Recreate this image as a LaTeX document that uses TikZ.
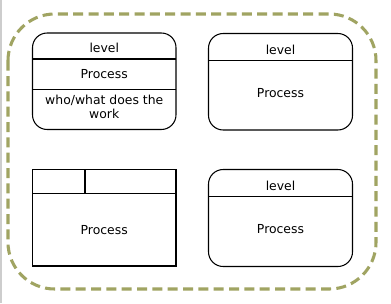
\documentclass[tikz,border=0pt]{standalone}
\usepackage{fontspec}
\setmainfont{DejaVu Sans}
\definecolor{olive1}{RGB}{160,164,98}
\definecolor{frame1}{RGB}{205,205,205}
\begin{document}
\begin{tikzpicture}[x=0.75pt,y=-0.75pt,
  box/.style={draw=black,line width=0.8pt},
  txt/.style={font=\fontsize{9.3}{11}\selectfont,inner sep=0pt,align=center},
  sep/.style={draw=black,line width=0.8pt}]
\useasboundingbox (0,0) rectangle (391,303);
\fill[white] (0,0) rectangle (391,303);
\draw[frame1,line width=1.2pt] (1.2,0) -- (1.2,303);
% outer dashed boundary
\draw[olive1,line width=2.3pt,dash pattern=on 7.5pt off 4pt,rounded corners=35pt]
  (8,14) rectangle (376,289);
% box 1
\draw[box,rounded corners=11pt] (32.5,33) rectangle (176,129.5);
\draw[sep] (32.5,59) -- (176,59);
\draw[sep] (32.5,89.5) -- (176,89.5);
\node[txt] (l1) at (104.25,48) {level};
\node[txt] (p1) at (104.25,74) {Process};
\node[txt] (w1) at (104.25,107) {who/what does the\\work};
% box 2
\draw[box,rounded corners=11pt] (208.5,33.5) rectangle (352.5,130);
\draw[sep] (208.5,60.5) -- (352.5,60.5);
\node[txt] (l2) at (280.5,49.5) {level};
\node[txt] (p2) at (280.5,93) {Process};
% box 3
\draw[box] (32.5,169.5) rectangle (176,266);
\draw[sep] (32.5,193.5) -- (176,193.5);
\draw[sep] (85,169.5) -- (85,193.5);
\node[txt] (p3) at (104.25,230) {Process};
% box 4
\draw[box,rounded corners=11pt] (208.5,169.5) rectangle (352.5,266.5);
\draw[sep] (208.5,196.5) -- (352.5,196.5);
\node[txt] (l4) at (280.5,186) {level};
\node[txt] (p4) at (280.5,229.5) {Process};
\end{tikzpicture}
\end{document}
